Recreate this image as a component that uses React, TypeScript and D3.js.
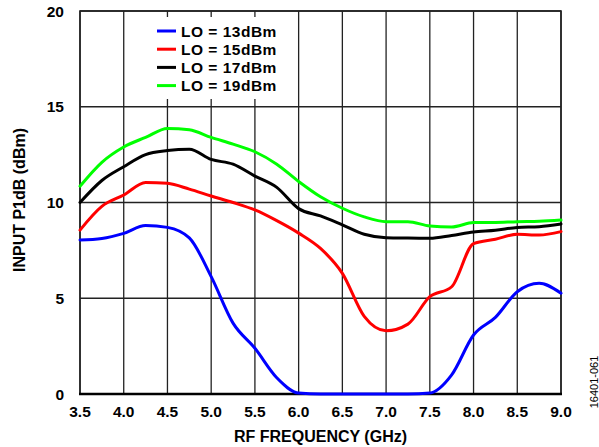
import React from "react";
import * as d3 from "d3";

const freq = [3.5, 3.75, 4.0, 4.25, 4.5, 4.75, 5.0, 5.25, 5.5, 5.75, 6.0, 6.25, 6.5, 6.75, 7.0, 7.25, 7.5, 7.75, 8.0, 8.25, 8.5, 8.75, 9.0];
const lo13 = [8.04, 8.12, 8.39, 8.8, 8.7, 8.15, 6.13, 3.7, 2.39, 0.85, 0.05, 0, 0, 0, 0, 0, 0.05, 1.0, 3.08, 4.0, 5.34, 5.78, 5.26];
const lo15 = [8.56, 9.8, 10.39, 11.05, 11.0, 10.7, 10.34, 10.0, 9.61, 9.05, 8.4, 7.6, 6.3, 4.05, 3.3, 3.65, 5.08, 5.6, 7.85, 8.08, 8.34, 8.3, 8.48];
const lo17 = [10.0, 11.15, 11.87, 12.5, 12.71, 12.78, 12.25, 12.0, 11.38, 10.79, 9.68, 9.3, 8.83, 8.34, 8.16, 8.14, 8.13, 8.28, 8.46, 8.55, 8.7, 8.74, 8.88];
const lo19 = [10.85, 12.1, 12.9, 13.4, 13.87, 13.8, 13.4, 13.05, 12.65, 12.0, 11.1, 10.3, 9.7, 9.25, 9.0, 9.0, 8.77, 8.72, 8.95, 8.96, 9.0, 9.02, 9.08];
const seriesNames = ["LO = 13dBm", "LO = 15dBm", "LO = 17dBm", "LO = 19dBm"];
const seriesColors = ["#0000ff", "#ff0000", "#000000", "#00ff00"];
const xTicks = [3.5, 4.0, 4.5, 5.0, 5.5, 6.0, 6.5, 7.0, 7.5, 8.0, 8.5, 9.0];
const yTicks = [0, 5, 10, 15, 20];

const FONT = "'Liberation Sans', Arial, sans-serif";

export default function App() {
  const W = 599, H = 447;
  const L = 80, R = 561, T = 11, B = 394;
  const x = d3.scaleLinear().domain([3.5, 9.0]).range([L, R]);
  const y = d3.scaleLinear().domain([0, 20]).range([B, T]);
  const line = d3.line<number>().x((_, i) => x(freq[i])).y((v) => y(v)).curve(d3.curveMonotoneX);
  const all = [lo13, lo15, lo17, lo19];
  const drawOrder = [3, 2, 1, 0];
  return (
    <svg width={W} height={H} style={{ position: "absolute", left: 0, top: 0, background: "#fff" }}>
      <rect x={0} y={0} width={W} height={H} fill="#fff" />
      {xTicks.map((t) => (
        <line key={"gx" + t} x1={x(t)} x2={x(t)} y1={T} y2={B} stroke="#222" strokeWidth={1.3} />
      ))}
      {yTicks.map((t) => (
        <line key={"gy" + t} x1={L} x2={R} y1={y(t)} y2={y(t)} stroke="#222" strokeWidth={1.3} />
      ))}
      <rect x={128} y={17} width={167} height={82} fill="#fff" />
      <rect x={L} y={T} width={R - L} height={B - T} fill="none" stroke="#222" strokeWidth={1.6} />
      <line x1={L - 1} x2={R + 1} y1={B} y2={B} stroke="#000" strokeWidth={2.4} />
      {drawOrder.map((i) => (
        <path key={"s" + i} d={line(all[i]) || ""} fill="none" stroke={seriesColors[i]} strokeWidth={3} strokeLinejoin="round" strokeLinecap="round" />
      ))}
      {seriesNames.map((n, i) => (
        <g key={"lg" + i}>
          <line x1={157} x2={176} y1={31 + i * 18.2} y2={31 + i * 18.2} stroke={seriesColors[i]} strokeWidth={3} />
          <text x={181} y={31 + i * 18.2 + 5.5} fontFamily={FONT} fontWeight="bold" fontSize={15.5} letterSpacing={0.5} fill="#000">{n}</text>
        </g>
      ))}
      {xTicks.map((t) => (
        <text key={"xl" + t} x={x(t)} y={417} textAnchor="middle" fontFamily={FONT} fontWeight="bold" fontSize={15.5} fill="#000">{t.toFixed(1)}</text>
      ))}
      {yTicks.map((t) => (
        <text key={"yl" + t} x={64} y={y(t) + 5.5} textAnchor="end" fontFamily={FONT} fontWeight="bold" fontSize={15.5} fill="#000">{t}</text>
      ))}
      <text x={(L + R) / 2} y={441.5} textAnchor="middle" fontFamily={FONT} fontWeight="bold" fontSize={16} fill="#000">RF FREQUENCY (GHz)</text>
      <text transform={`translate(25,200) rotate(-90)`} textAnchor="middle" fontFamily={FONT} fontWeight="bold" fontSize={16} fill="#000">INPUT P1dB (dBm)</text>
      <text transform={`translate(598,382) rotate(-90)`} textAnchor="middle" fontFamily={FONT} fontSize={11} fill="#000">16401-061</text>
    </svg>
  );
}
